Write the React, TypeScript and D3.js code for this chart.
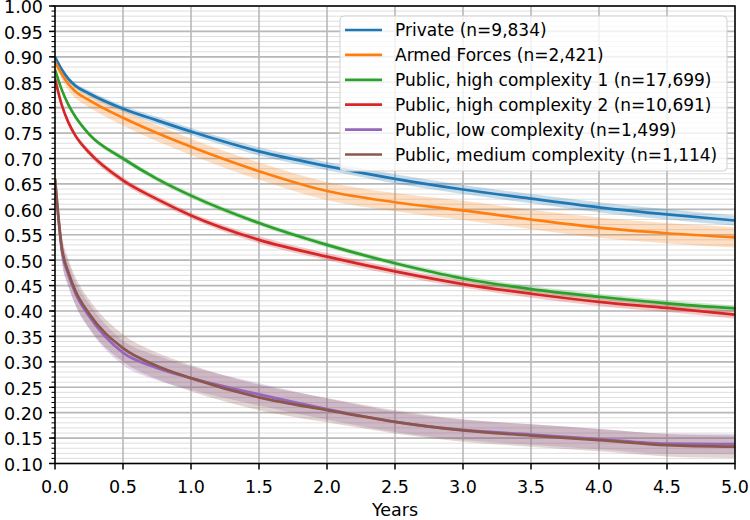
import React from "react";
import * as d3 from "d3";

const times = [0, 0.05, 0.1, 0.15, 0.25, 0.5, 0.75, 1.0, 1.5, 2.0, 2.5, 3.0, 3.5, 4.0, 4.5, 5.0];

const privateVals = [0.90, 0.875, 0.856, 0.843, 0.828, 0.798, 0.775, 0.753, 0.714, 0.685, 0.660, 0.639, 0.621, 0.604, 0.590, 0.578];
const armedVals = [0.89, 0.866, 0.846, 0.832, 0.815, 0.780, 0.750, 0.723, 0.675, 0.636, 0.614, 0.598, 0.580, 0.564, 0.553, 0.545];
const high1Vals = [0.875, 0.835, 0.805, 0.782, 0.748, 0.700, 0.660, 0.627, 0.573, 0.530, 0.494, 0.464, 0.443, 0.428, 0.415, 0.405];
const high2Vals = [0.857, 0.805, 0.770, 0.745, 0.712, 0.657, 0.620, 0.588, 0.540, 0.507, 0.478, 0.453, 0.434, 0.418, 0.406, 0.393];
const lowVals = [0.66, 0.52, 0.47, 0.435, 0.390, 0.318, 0.288, 0.268, 0.236, 0.207, 0.182, 0.166, 0.157, 0.148, 0.139, 0.138];
const mediumVals = [0.66, 0.525, 0.475, 0.440, 0.395, 0.327, 0.292, 0.268, 0.230, 0.205, 0.182, 0.165, 0.155, 0.146, 0.136, 0.133];

const privateCI = [0.002, 0.004, 0.005, 0.005, 0.006, 0.006, 0.007, 0.007, 0.008, 0.008, 0.009, 0.009, 0.009, 0.010, 0.010, 0.010];
const armedCI = [0.005, 0.010, 0.012, 0.013, 0.014, 0.015, 0.016, 0.016, 0.017, 0.018, 0.018, 0.019, 0.019, 0.020, 0.020, 0.020];
const high1CI = [0.002, 0.004, 0.004, 0.004, 0.004, 0.005, 0.005, 0.005, 0.005, 0.005, 0.005, 0.006, 0.006, 0.006, 0.006, 0.006];
const high2CI = [0.003, 0.005, 0.005, 0.005, 0.006, 0.006, 0.006, 0.006, 0.007, 0.007, 0.007, 0.007, 0.008, 0.008, 0.008, 0.008];
const lowCI = [0.010, 0.022, 0.024, 0.024, 0.025, 0.024, 0.024, 0.023, 0.022, 0.021, 0.020, 0.020, 0.020, 0.020, 0.020, 0.020];
const mediumCI = [0.010, 0.024, 0.026, 0.027, 0.028, 0.027, 0.026, 0.026, 0.025, 0.024, 0.023, 0.022, 0.022, 0.022, 0.022, 0.022];

const seriesNames = [
  "Private (n=9,834)",
  "Armed Forces (n=2,421)",
  "Public, high complexity 1 (n=17,699)",
  "Public, high complexity 2 (n=10,691)",
  "Public, low complexity (n=1,499)",
  "Public, medium complexity (n=1,114)",
];
const seriesColors = ["#1f77b4", "#ff7f0e", "#2ca02c", "#d62728", "#9467bd", "#8c564b"];
const seriesValues = [privateVals, armedVals, high1Vals, high2Vals, lowVals, mediumVals];
const seriesCI = [privateCI, armedCI, high1CI, high2CI, lowCI, mediumCI];

const xTicks = [0, 0.5, 1.0, 1.5, 2.0, 2.5, 3.0, 3.5, 4.0, 4.5, 5.0];
const yTicks = d3.range(0, 19).map((i) => +(0.1 + i * 0.05).toFixed(2));
const yMinor = d3.range(0, 91).map((i) => +(0.1 + i * 0.01).toFixed(2));

const W = 750;
const H = 520;
const left = 55;
const right = 735;
const top = 6;
const bottom = 463.5;
const FONT = "DejaVu Sans, sans-serif";

export default function App() {
  const x = d3.scaleLinear().domain([0, 5]).range([left, right]);
  const y = d3.scaleLinear().domain([0.1, 1.0]).range([bottom, top]);

  const line = d3
    .line<number>()
    .x((_, i) => x(times[i]))
    .y((d) => y(d))
    .curve(d3.curveMonotoneX);

  const area = (vals: number[], ci: number[]) =>
    d3
      .area<number>()
      .x((_, i) => x(times[i]))
      .y0((d, i) => y(d - ci[i]))
      .y1((d, i) => y(d + ci[i]))
      .curve(d3.curveMonotoneX)(vals) || "";

  const legX = 340;
  const legY = 16;
  const legW = 387;
  const legH = 155;
  const rowH = 24.9;

  return (
    <svg
      width={W}
      height={H}
      style={{ position: "absolute", left: 0, top: 0, background: "#fff" }}
      fontFamily={FONT}
    >
      <defs>
        <clipPath id="plotclip">
          <rect x={left} y={top} width={right - left} height={bottom - top} />
        </clipPath>
      </defs>
      <rect x={0} y={0} width={W} height={H} fill="#fff" />
      {yMinor.map((v) => (
        <line key={"mg" + v} x1={left} x2={right} y1={y(v)} y2={y(v)} stroke="#dedede" strokeWidth={1} />
      ))}
      {yTicks.map((v) => (
        <line key={"yg" + v} x1={left} x2={right} y1={y(v)} y2={y(v)} stroke="#b8b8b8" strokeWidth={1.6} />
      ))}
      {xTicks.map((v) => (
        <line key={"xg" + v} x1={x(v)} x2={x(v)} y1={top} y2={bottom} stroke="#b8b8b8" strokeWidth={1.6} />
      ))}
      <g clipPath="url(#plotclip)">
        {seriesValues.map((vals, i) => (
          <path key={"a" + i} d={area(vals, seriesCI[i])} fill={seriesColors[i]} fillOpacity={0.25} />
        ))}
        {seriesValues.map((vals, i) => (
          <path key={"l" + i} d={line(vals) || ""} fill="none" stroke={seriesColors[i]} strokeWidth={2.7} />
        ))}
      </g>
      <rect x={left} y={top} width={right - left} height={bottom - top} fill="none" stroke="#000" strokeWidth={1.5} />
      {yMinor.map((v) => (
        <line key={"mt" + v} x1={left - 3.5} x2={left} y1={y(v)} y2={y(v)} stroke="#000" strokeWidth={1} />
      ))}
      {yTicks.map((v) => (
        <g key={"yt" + v}>
          <line x1={left - 6} x2={left} y1={y(v)} y2={y(v)} stroke="#000" strokeWidth={1.5} />
          <text x={left - 12} y={y(v)} dy="0.42em" textAnchor="end" fontSize={17.5} fill="#000">
            {v.toFixed(2)}
          </text>
        </g>
      ))}
      {xTicks.map((v) => (
        <g key={"xt" + v}>
          <line x1={x(v)} x2={x(v)} y1={bottom} y2={bottom + 6} stroke="#000" strokeWidth={1.5} />
          <text x={x(v)} y={bottom + 29} textAnchor="middle" fontSize={17.5} fill="#000">
            {v.toFixed(1)}
          </text>
        </g>
      ))}
      <text x={(left + right) / 2} y={516} textAnchor="middle" fontSize={17.5} fill="#000">
        Years
      </text>
      <rect
        x={legX}
        y={legY}
        width={legW}
        height={legH}
        rx={4}
        fill="#fff"
        fillOpacity={0.8}
        stroke="#d0d0d0"
        strokeWidth={1}
      />
      {seriesNames.map((name, i) => {
        const cy = legY + 14 + i * rowH;
        return (
          <g key={"lg" + i}>
            <line x1={legX + 5} x2={legX + 42} y1={cy} y2={cy} stroke={seriesColors[i]} strokeWidth={2.7} />
            <text x={legX + 55} y={cy} dy="0.36em" fontSize={17} fill="#000">
              {name}
            </text>
          </g>
        );
      })}
    </svg>
  );
}
